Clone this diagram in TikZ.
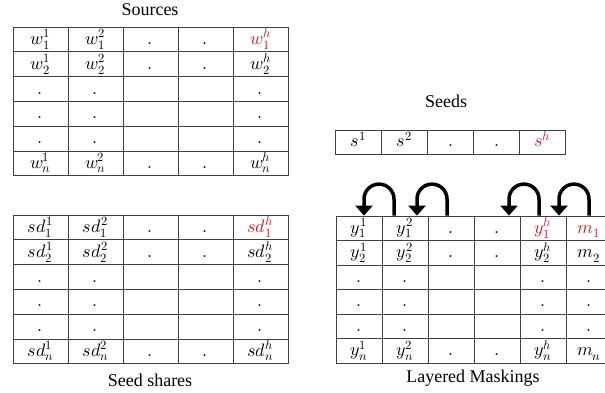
\documentclass[tikz,border=0pt]{standalone}
\usepackage{unicode-math}
\setmainfont{Liberation Serif}
\setmathfont{Latin Modern Math}
\usetikzlibrary{matrix, arrows.meta}
\definecolor{mred}{RGB}{192,30,36}

\begin{document}
\begin{tikzpicture}[x=1pt, y=1pt, font=\fontsize{18}{21}\selectfont]
    \tikzstyle{cell}=[draw=black!75, line width=0.8pt, inner sep=0pt, text height=14pt, text depth=4pt]
    \tikzstyle{tab}=[matrix of math nodes, nodes in empty cells, column sep=-0.8pt, row sep=-0.8pt]
    \tikzstyle{hl}=[text=mred]
    \tikzstyle{arch}=[-{Triangle[width=17pt,length=10pt]}, line width=3.5pt]
    \tikzstyle{title}=[inner sep=0pt]

    \def\rad{15}

    \clip (0,0) rectangle (605,393);

    % sources
    \node[title] (srctitle) at (150,383) {Sources};
    \matrix[tab, nodes={cell, minimum width=55pt, minimum height=24.8pt}] (src) at (150.5,291.5) {
        w_1^1 & w_1^2 & . & . & |[hl]| w_1^h \\
        w_2^1 & w_2^2 & . & . & w_2^h \\
        . & . & & & . \\
        . & . & & & . \\
        . & . & & & . \\
        w_n^1 & w_n^2 & . & . & w_n^h \\
    };

    % seed shares
    \matrix[tab, nodes={cell, minimum width=55pt, minimum height=24.8pt}] (shr) at (150.5,103.5) {
        sd_1^1 & sd_1^2 & . & . & |[hl]| sd_1^h \\
        sd_2^1 & sd_2^2 & . & . & sd_2^h \\
        . & . & & & . \\
        . & . & & & . \\
        . & . & & & . \\
        sd_n^1 & sd_n^2 & . & . & sd_n^h \\
    };
    \node[title] (shrtitle) at (150,13) {Seed shares};

    % seeds
    \node[title] (seedtitle) at (446,292) {Seeds};
    \matrix[tab, nodes={cell, minimum width=46pt, minimum height=24pt}] (sd) at (450.5,251) {
        s^1 & s^2 & . & . & |[hl]| s^h \\
    };

    % layered maskings
    \matrix[tab, nodes={cell, minimum width=46pt, minimum height=24.5pt}] (lm) at (474,103.5) {
        y_1^1 & y_1^2 & . & . & |[hl]| y_1^h & |[hl]| m_1 \\
        y_2^1 & y_2^2 & . & . & y_2^h & m_2 \\
        . & . & & & . & . \\
        . & . & & & . & . \\
        . & . & & & . & . \\
        y_n^1 & y_n^2 & . & . & y_n^h & m_n \\
    };
    \node[title] (lmtitle) at (473,15) {Layered Maskings};

    \draw[arch] ([xshift=-11pt]lm-1-2.north) -- ++(0,16.5) arc[start angle=0, end angle=180, radius=\rad] -- ([xshift=5pt]lm-1-1.north);
    \draw[arch] ([xshift=-4pt]lm-1-3.north) -- ++(0,16.5) arc[start angle=0, end angle=180, radius=\rad] -- ([xshift=12pt]lm-1-2.north);
    \draw[arch] ([xshift=-4pt]lm-1-5.north) -- ++(0,16.5) arc[start angle=0, end angle=180, radius=\rad] -- ([xshift=12pt]lm-1-4.north);
    \draw[arch] (lm-1-6.north) -- ++(0,16.5) arc[start angle=0, end angle=180, radius=\rad] -- ([xshift=16pt]lm-1-5.north);

\end{tikzpicture}
\end{document}
